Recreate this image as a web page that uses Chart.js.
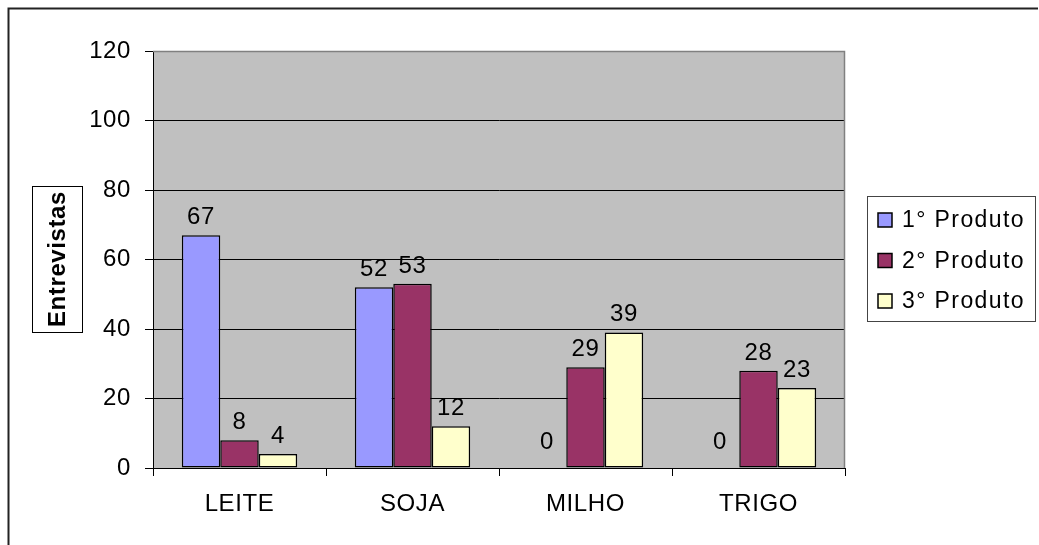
<!DOCTYPE html>
<html>
<head>
<meta charset="utf-8">
<script src="https://cdn.jsdelivr.net/npm/chart.js@4.4.1/dist/chart.umd.min.js"></script>
<style>
  html, body { margin: 0; padding: 0; background: #fff; }
  canvas { display: block; }
</style>
</head>
<body>
<canvas id="c" width="1039" height="545"></canvas>
<script>
// Produtos citados nas entrevistas, por ordem de importância
const categories = ['LEITE', 'SOJA', 'MILHO', 'TRIGO'];
const seriesNames = ['1° Produto', '2° Produto', '3° Produto'];
const produto1 = [67, 52, 0, 0];
const produto2 = [8, 53, 29, 28];
const produto3 = [4, 12, 39, 23];
const yTicks = [0, 20, 40, 60, 80, 100, 120];
const axisTitle = 'Entrevistas';

const colors = ['#9999FF', '#993366', '#FFFFCC'];
const FONT = "'Liberation Sans', Arial, sans-serif";
const SPACING = '0.6px';

const frame = {
  id: 'frame',
  beforeUpdate(chart) { chart.ctx.letterSpacing = SPACING; },
  beforeLayout(chart) { chart.ctx.letterSpacing = SPACING; },
  beforeDraw(chart) {
    const { ctx, chartArea: a } = chart;
    ctx.letterSpacing = SPACING;
    ctx.save();
    ctx.fillStyle = '#C0C0C0';
    ctx.fillRect(a.left, a.top, a.right - a.left, a.bottom - a.top);
    ctx.restore();
  },
  afterDraw(chart) {
    const { ctx, chartArea: a } = chart;
    ctx.save();
    // plot border (top / right)
    ctx.strokeStyle = '#808080';
    ctx.lineWidth = 1.5;
    ctx.beginPath();
    ctx.moveTo(a.left, a.top + 0.5);
    ctx.lineTo(a.right - 0.5, a.top + 0.5);
    ctx.lineTo(a.right - 0.5, a.bottom);
    ctx.stroke();

    // outer frame
    ctx.strokeStyle = '#222';
    ctx.lineWidth = 2;
    ctx.beginPath();
    ctx.moveTo(8.5, 545);
    ctx.lineTo(8.5, 8.5);
    ctx.lineTo(1038, 8.5);
    ctx.stroke();

    // axis title in a box
    ctx.fillStyle = '#fff';
    ctx.fillRect(32, 186, 50, 146);
    ctx.strokeStyle = '#000';
    ctx.lineWidth = 1;
    ctx.strokeRect(32.5, 186.5, 50, 146);
    ctx.translate(57.5, 259);
    ctx.rotate(-Math.PI / 2);
    ctx.fillStyle = '#000';
    ctx.font = 'bold 24px ' + FONT;
    ctx.textAlign = 'center';
    ctx.textBaseline = 'middle';
    ctx.fillText(axisTitle, 0, 1);
    ctx.setTransform(1, 0, 0, 1, 0, 0);

    // legend
    ctx.fillStyle = '#fff';
    ctx.fillRect(867, 196, 168, 125);
    ctx.strokeStyle = '#444';
    ctx.lineWidth = 1;
    ctx.strokeRect(867.5, 196.5, 168, 125);
    ctx.font = '23px ' + FONT;
    ctx.letterSpacing = '1.4px';
    ctx.textAlign = 'left';
    ctx.textBaseline = 'middle';
    chart.data.datasets.forEach((ds, i) => {
      const cy = 220 + i * 40.5;
      ctx.fillStyle = ds.backgroundColor;
      ctx.fillRect(878, cy - 7, 14, 14);
      ctx.strokeStyle = '#000';
      ctx.lineWidth = 1.5;
      ctx.strokeRect(878, cy - 7, 14, 14);
      ctx.fillStyle = '#000';
      ctx.fillText(ds.label, 902, cy + 1);
    });
    ctx.restore();
  },
  afterDatasetsDraw(chart) {
    const { ctx } = chart;
    ctx.save();
    ctx.font = '24px ' + FONT;
    ctx.fillStyle = '#000';
    ctx.textAlign = 'center';
    ctx.textBaseline = 'alphabetic';
    chart.data.datasets.forEach((ds, di) => {
      chart.getDatasetMeta(di).data.forEach((bar, i) => {
        const v = ds.data[i];
        const off = v === 0 ? 19 : 11;
        ctx.fillText(String(v), bar.x, bar.y - off);
      });
    });
    ctx.restore();
  }
};

new Chart(document.getElementById('c'), {
  type: 'bar',
  data: {
    labels: categories,
    datasets: [produto1, produto2, produto3].map((d, i) => ({
      label: seriesNames[i],
      data: d,
      backgroundColor: colors[i],
      borderColor: '#000',
      borderWidth: 1.5,
      borderSkipped: false,
      categoryPercentage: 0.667,
      barPercentage: 1.0
    }))
  },
  options: {
    responsive: false,
    animation: false,
    devicePixelRatio: 1,
    layout: { padding: { left: 0, top: 51, right: 194, bottom: 0 } },
    plugins: { legend: { display: false }, tooltip: { enabled: false } },
    scales: {
      x: {
        afterFit(s) { s.height = 77; },
        grid: {
          offset: true,
          drawOnChartArea: false,
          drawTicks: true,
          tickLength: 8,
          color: '#000'
        },
        border: { display: true, color: '#000', width: 1 },
        ticks: { color: '#000', font: { family: FONT, size: 24 }, padding: 14 }
      },
      y: {
        min: yTicks[0],
        max: yTicks[yTicks.length - 1],
        afterFit(s) { s.width = 153; },
        afterBuildTicks(s) { s.ticks = yTicks.map(v => ({ value: v })); },
        grid: {
          color: c => (c.tick && c.tick.value === 120 ? '#808080' : '#000'),
          tickColor: '#000',
          tickLength: 8,
          lineWidth: 1
        },
        border: { display: true, color: '#000', width: 1 },
        ticks: { color: '#000', font: { family: FONT, size: 24 }, padding: 14 }
      }
    }
  },
  plugins: [frame]
});
</script>
</body>
</html>
